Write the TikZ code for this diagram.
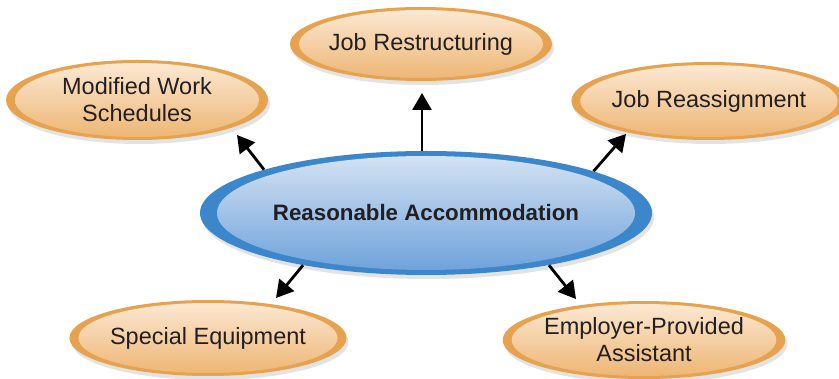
\documentclass[tikz,border=0pt]{standalone}
\usepackage{fontspec}
\setmainfont{Liberation Sans}
\usetikzlibrary{shapes.geometric,shadows,arrows.meta,calc}
\definecolor{ringorange}{HTML}{E6A24E}
\definecolor{toporange}{HTML}{FCEAD6}
\definecolor{botorange}{HTML}{EDB470}
\definecolor{ringblue}{HTML}{3C87CB}
\definecolor{topblue}{HTML}{D8E4F4}
\definecolor{botblue}{HTML}{6AA0DA}
\definecolor{textgray}{HTML}{231F20}
\tikzset{>={Triangle[length=17pt, width=19pt]}}
\begin{document}
\begin{tikzpicture}[x=1pt, y=-1pt]
  % Define bubble and arrow styles
  \tikzstyle{mybubble} = [ellipse, inner sep=0pt, fill=ringorange,
  path picture={\shade[top color=toporange, bottom color=botorange]
    let \p1=($(path picture bounding box.north east)-(path picture bounding box.center)$) in
    (path picture bounding box.center) ellipse ({\x1-9pt} and {\y1-3pt});},
  drop shadow={shadow xshift=2pt, shadow yshift=-4pt, fill=black!22},
  text=textgray, align=center, font=\fontsize{23.5}{27}\selectfont]
  \tikzstyle{mycenter} = [mybubble, fill=ringblue,
  path picture={\shade[top color=topblue, bottom color=botblue]
    let \p1=($(path picture bounding box.north east)-(path picture bounding box.center)$) in
    (path picture bounding box.center) ellipse ({\x1-17pt} and {\y1-5pt});},
  font=\fontsize{22.3}{26}\selectfont\bfseries]
  \tikzstyle{myarrow} = [line width=2.8pt, ->]

  \useasboundingbox (0,0) rectangle (839,379);

  \node [mycenter, minimum width=452pt, minimum height=124pt] (center) at (426,213) {Reasonable Accommodation};

  \node [mybubble, minimum width=262pt, minimum height=74pt] (jobr) at (421,44) {Job Restructuring};
  \node [mybubble, minimum width=262pt, minimum height=80pt] (mws) at (137,100) {Modified Work\\Schedules};
  \node [mybubble, minimum width=242pt, minimum height=78pt] (jobra) at (709,101) {Job Reassignment};
  \node [mybubble, minimum width=266pt, minimum height=76pt] (speq) at (208,338) {Special Equipment};
  \node [mybubble, minimum width=262pt, minimum height=78pt] (epa) at (644,340) {Employer-Provided\\Assistant};

  % arrow tips, just short of the outer bubbles
  \coordinate (tipjobr) at (422,93);
  \coordinate (tipmws) at (237,135);
  \coordinate (tipjobra) at (626,134);
  \coordinate (tipspeq) at (276,298);
  \coordinate (tipepa) at (576,299);

  \draw [myarrow] (center.north -| tipjobr) -- (tipjobr);
  \draw [myarrow] (center.165) -- (tipmws);
  \draw [myarrow] (center.14) -- (tipjobra);
  \draw [myarrow] (center.203) -- (tipspeq);
  \draw [myarrow] (center.337) -- (tipepa);
\end{tikzpicture}
\end{document}
